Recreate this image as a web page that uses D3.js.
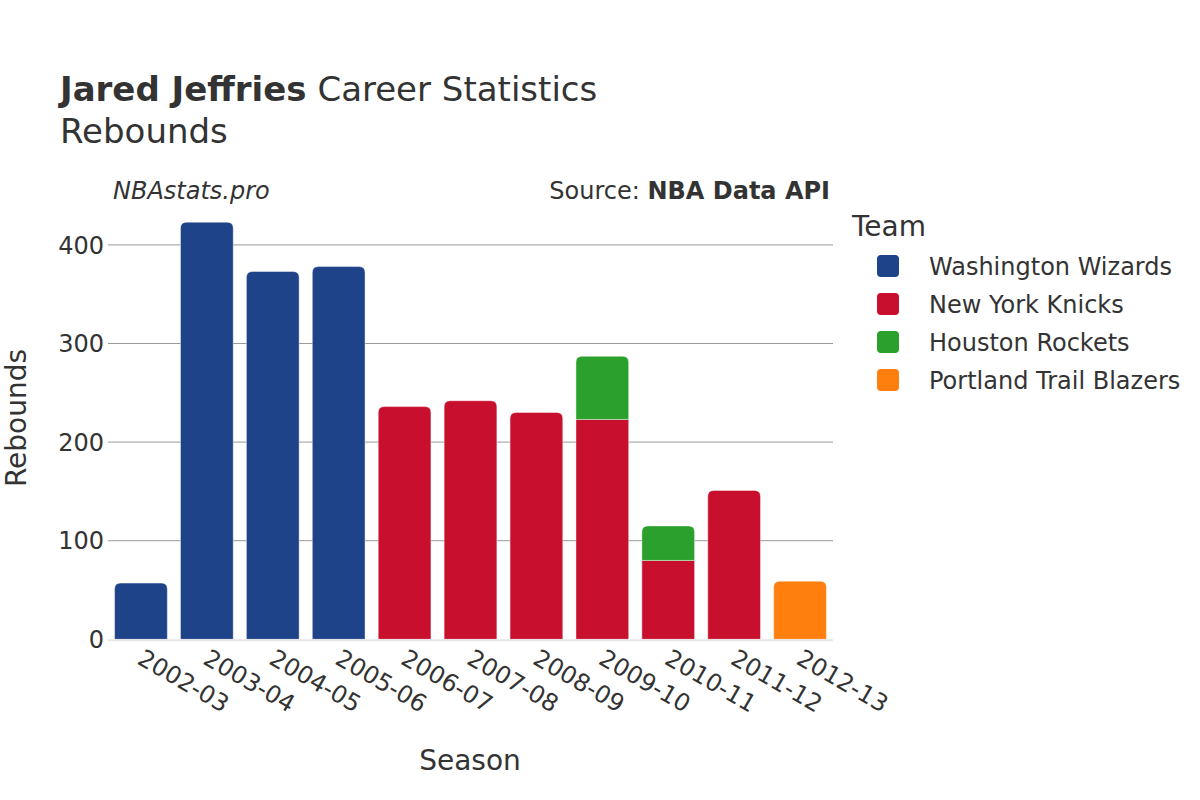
<!DOCTYPE html>
<html>
<head>
<meta charset="utf-8">
<script src="https://cdn.jsdelivr.net/npm/d3@7/dist/d3.min.js"></script>
<style>
  body { margin: 0; background: #fff; }
  svg text { font-family: "DejaVu Sans", sans-serif; fill: #333; }
</style>
</head>
<body>
<svg id="chart" width="1200" height="800"></svg>
<script>
const seasons = ["2002-03","2003-04","2004-05","2005-06","2006-07","2007-08","2008-09","2009-10","2010-11","2011-12","2012-13"];
const teams = ["Washington Wizards","New York Knicks","Houston Rockets","Portland Trail Blazers"];
const teamColors = ["#1f4388","#c8102e","#2ca02c","#ff7f0e"];
const wizards = [57,423,373,378,0,0,0,0,0,0,0];
const knicks  = [0,0,0,0,236,242,230,223,80,151,0];
const rockets = [0,0,0,0,0,0,0,64,35,0,0];
const blazers = [0,0,0,0,0,0,0,0,0,0,59];
const yTicks = [0,100,200,300,400];

const svg = d3.select("#chart");
const plotLeft = 108, plotRight = 833, plotBottom = 639.3;

const x = d3.scaleBand().domain(seasons).range([plotLeft, plotRight]).paddingInner(0.2).paddingOuter(0.1);
const y = d3.scaleLinear().domain([0, 456]).range([plotBottom, plotBottom - 456 * 0.986]);

// grid
svg.append("g").selectAll("line").data(yTicks.filter(d => d > 0)).join("line")
  .attr("x1", plotLeft).attr("x2", plotRight)
  .attr("y1", d => y(d)).attr("y2", d => y(d))
  .attr("stroke", "#999").attr("stroke-width", 1);

// y tick labels
svg.append("g").selectAll("text").data(yTicks).join("text")
  .attr("x", plotLeft - 4).attr("y", d => y(d)).attr("dy", "0.36em")
  .attr("text-anchor", "end").attr("font-size", 24)
  .text(d => d);

// stacked data
const series = [wizards, knicks, rockets, blazers];
const rows = seasons.map((s, i) => {
  const o = { season: s };
  teams.forEach((t, k) => o[t] = series[k][i]);
  return o;
});
const stacked = d3.stack().keys(teams)(rows);
const totals = seasons.map((s, i) => series.reduce((a, arr) => a + arr[i], 0));

function barPath(x0, w, y0, y1, rounded) {
  const r = rounded ? Math.min(6, (y0 - y1) / 2) : 0;
  return `M${x0},${y0}L${x0},${y1 + r}Q${x0},${y1} ${x0 + r},${y1}L${x0 + w - r},${y1}Q${x0 + w},${y1} ${x0 + w},${y1 + r}L${x0 + w},${y0}Z`;
}

stacked.forEach((layer, k) => {
  svg.append("g").selectAll("path").data(layer.filter(d => d[1] - d[0] > 0)).join("path")
    .attr("fill", teamColors[k])
    .attr("stroke", "#fff").attr("stroke-width", 0.6).attr("stroke-opacity", 0.7)
    .attr("d", d => {
      const i = seasons.indexOf(d.data.season);
      const isTop = Math.abs(d[1] - totals[i]) < 0.001;
      return barPath(x(d.data.season), x.bandwidth(), y(d[0]), y(d[1]), isTop);
    });
});

// zero line
svg.append("line").attr("x1", plotLeft).attr("x2", plotRight)
  .attr("y1", y(0) + 1).attr("y2", y(0) + 1)
  .attr("stroke", "#e6e6e6").attr("stroke-width", 2);

// x tick labels
svg.append("g").selectAll("text").data(seasons).join("text")
  .attr("transform", d => `translate(${x(d) + x.bandwidth() / 2 - 5},${663}) rotate(30)`)
  .attr("text-anchor", "start").attr("font-size", 24)
  .text(d => d);

// titles
const title = svg.append("text").attr("x", 60).attr("y", 101).attr("font-size", 34);
title.append("tspan").attr("font-weight", "bold").text("Jared Jeffries");
title.append("tspan").text(" Career Statistics");
svg.append("text").attr("x", 60).attr("y", 143).attr("font-size", 34).text("Rebounds");

svg.append("text").attr("x", 113).attr("y", 199).attr("font-size", 24).attr("font-style", "italic").text("NBAstats.pro");
const src = svg.append("text").attr("x", 830).attr("y", 199).attr("font-size", 24).attr("text-anchor", "end");
src.append("tspan").text("Source: ");
src.append("tspan").attr("font-weight", "bold").text("NBA Data API");

svg.append("text").attr("x", 470).attr("y", 770).attr("font-size", 28).attr("text-anchor", "middle").text("Season");
svg.append("text").attr("transform", "translate(26,418) rotate(-90)").attr("font-size", 28).attr("text-anchor", "middle").text("Rebounds");

// legend
svg.append("text").attr("x", 852).attr("y", 236).attr("font-size", 28).text("Team");
const lg = svg.append("g").selectAll("g").data(teams).join("g")
  .attr("transform", (d, i) => `translate(877,${266 + i * 38})`);
lg.append("rect").attr("x", 0).attr("y", -11).attr("width", 22).attr("height", 22).attr("rx", 4)
  .attr("fill", (d, i) => teamColors[i]);
lg.append("text").attr("x", 52).attr("y", 0).attr("dy", "0.36em").attr("font-size", 24).text(d => d);
</script>
</body>
</html>
